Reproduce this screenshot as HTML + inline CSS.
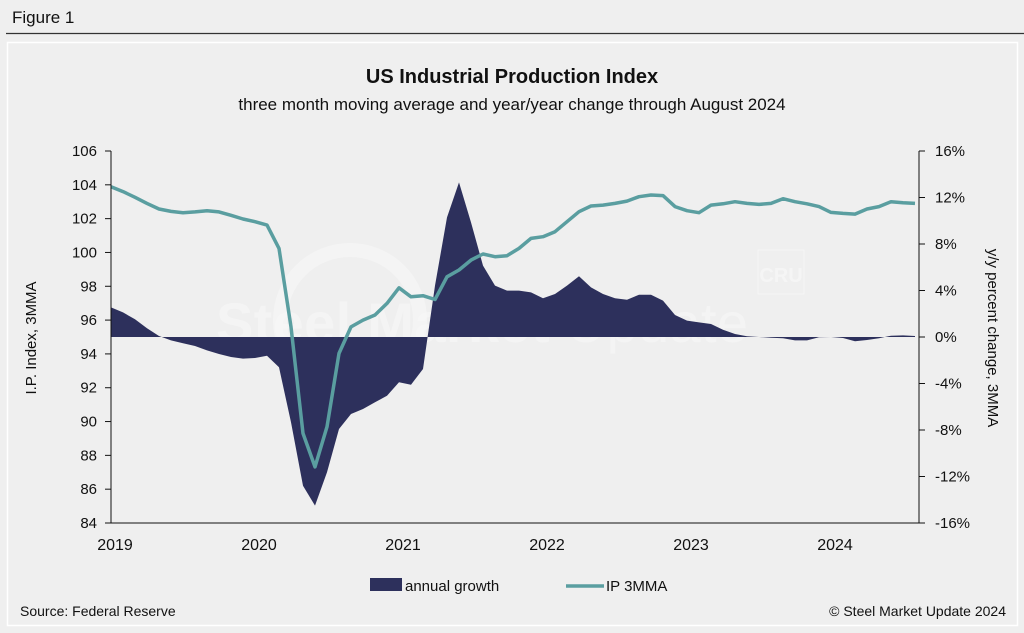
<!DOCTYPE html>
<html><head><meta charset="utf-8"><style>
body{margin:0;background:#efefef;font-family:"Liberation Sans",sans-serif;}
#wrap{position:relative;width:1024px;height:633px;overflow:hidden;background:#efefef;}
</style></head><body>
<div id="wrap">
<svg id="svg" width="1024" height="633" xmlns="http://www.w3.org/2000/svg" font-family="Liberation Sans, sans-serif">
<text x="12" y="23" font-size="17" fill="#111">Figure 1</text>
<line x1="6" y1="33.5" x2="1024" y2="33.5" stroke="#333" stroke-width="1.2"/>
<rect x="7.5" y="42.5" width="1010" height="583" fill="none" stroke="#fff" stroke-width="1.5"/>
<text x="512" y="83" font-size="20" font-weight="bold" text-anchor="middle" fill="#111">US Industrial Production Index</text>
<text x="512" y="110" font-size="17" text-anchor="middle" fill="#111">three month moving average and year/year change through August 2024</text>
<g opacity="0.5">
<circle cx="350" cy="320" r="70" fill="none" stroke="#fff" stroke-width="14" opacity="0.6"/>
<text x="216" y="342" font-size="56" font-weight="bold" fill="#fff" opacity="0.6" textLength="532">Steel Market <tspan font-weight="normal">Update</tspan></text>
<rect x="758" y="250" width="46" height="44" fill="none" stroke="#fff" stroke-width="1" opacity="0.7"/>
<text x="781" y="282" font-size="20" font-weight="bold" text-anchor="middle" fill="#fff" opacity="0.8">CRU</text>
</g>
<g id="plot"></g>
<text transform="translate(36,338) rotate(-90)" font-size="15" text-anchor="middle" fill="#111">I.P. Index, 3MMA</text>
<text transform="translate(988,338) rotate(90)" font-size="15" text-anchor="middle" fill="#111">y/y percent change, 3MMA</text>
<g>
<rect x="370" y="578" width="32" height="13" fill="#2d305c"/>
<text x="405" y="591" font-size="15" fill="#111">annual growth</text>
<line x1="566" y1="586" x2="604" y2="586" stroke="#5a9ea0" stroke-width="3.5"/>
<text x="606" y="591" font-size="15" fill="#111">IP 3MMA</text>
</g>
<text x="20" y="616" font-size="14" fill="#111">Source: Federal Reserve</text>
<text x="1006" y="616" font-size="14" text-anchor="end" fill="#111">© Steel Market Update 2024</text>
</svg>
</div>
<script>
const ipIndex=[103.89,103.6,103.26,102.9,102.57,102.43,102.35,102.4,102.47,102.4,102.2,101.98,101.82,
101.62,100.24,95.6,89.3,87.32,89.69,94.03,95.6,96.0,96.3,96.99,97.91,97.38,97.44,97.22,98.56,98.96,99.55,99.91,99.75,99.81,100.24,100.83,
100.93,101.23,101.82,102.41,102.75,102.8,102.9,103.04,103.3,103.4,103.36,102.71,102.47,102.35,102.8,102.88,103.0,102.9,102.84,102.9,103.18,103.0,102.88,102.71,102.37,102.31,102.27,102.57,102.71,103.0,102.94,102.9];
const annualGrowth=[2.55,2.12,1.52,0.75,0.09,-0.29,-0.54,-0.77,-1.15,-1.46,-1.72,-1.86,-1.81,
-1.61,-2.61,-7.34,-12.79,-14.5,-11.64,-7.91,-6.62,-6.19,-5.62,-5.05,-3.9,-4.1,-2.75,4.42,10.29,13.3,9.86,6.14,4.42,3.99,3.99,3.84,
3.33,3.7,4.42,5.22,4.27,3.7,3.33,3.21,3.64,3.64,3.13,1.89,1.41,1.26,1.12,0.63,0.26,0.06,0,-0.06,-0.11,-0.29,-0.29,-0.03,0,-0.09,-0.37,-0.26,-0.11,0.11,0.14,0.09];
const leftTicks=[84,86,88,90,92,94,96,98,100,102,104,106];
const rightTicks=[-16,-12,-8,-4,0,4,8,12,16];
const yearLabels=["2019","2020","2021","2022","2023","2024"];
const X0=111,X1=919,Y0=151,Y1=523,MONTHPX=12;
const xM=i=>X0+i*MONTHPX;
const yL=v=>Y1-(v-84)/(106-84)*(Y1-Y0);
const yR=v=>Y1-(v+16)/32*(Y1-Y0);
const NS="http://www.w3.org/2000/svg";
const g=document.getElementById('plot');
function mk(t,a){const e=document.createElementNS(NS,t);for(const k in a)e.setAttribute(k,a[k]);g.appendChild(e);return e;}
let d=`M${xM(0)},${yR(0)}`;
annualGrowth.forEach((v,i)=>{d+=` L${xM(i).toFixed(1)},${yR(v).toFixed(1)}`;});
d+=` L${xM(annualGrowth.length-1)},${yR(0)} Z`;
const area=mk('path',{d:d,fill:'#2d305c'});


const pts=ipIndex.map((v,i)=>`${xM(i).toFixed(1)},${yL(v).toFixed(1)}`).join(' ');
const ln=mk('polyline',{points:pts,fill:'none',stroke:'#5a9ea0','stroke-width':3.5,'stroke-linejoin':'round'});


const ax=mk('path',{d:`M${X0},${Y0} V${Y1} H${X1} V${Y0}`,fill:'none',stroke:'#111','stroke-width':1});


leftTicks.forEach(v=>{
 const y=yL(v);
 const t=mk('line',{x1:X0-6,x2:X0,y1:y,y2:y,stroke:'#111'});
 
 
 const tx=mk('text',{x:X0-14,y:y+5,'font-size':15,'text-anchor':'end',fill:'#111'});
 tx.textContent=v;
 
 
});
rightTicks.forEach(v=>{
 const y=yR(v);
 const t=mk('line',{x1:X1,x2:X1+6,y1:y,y2:y,stroke:'#111'});
 
 
 const tx=mk('text',{x:X1+16,y:y+5,'font-size':15,fill:'#111'});
 tx.textContent=v+'%';
 
 
});
yearLabels.forEach((s,i)=>{
 const tx=mk('text',{x:xM(i*12)+4,y:Y1+27,'font-size':16,'text-anchor':'middle',fill:'#111'});
 tx.textContent=s;
 
 
});
</script>
</body></html>
